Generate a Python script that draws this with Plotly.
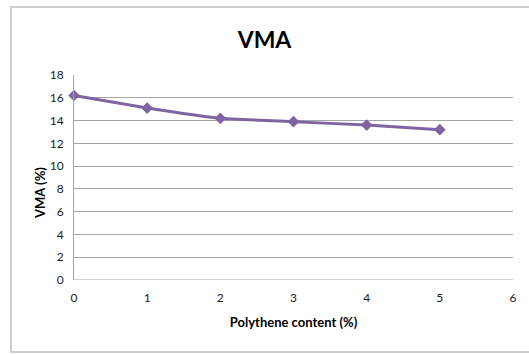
import plotly.graph_objects as go

# Polythene content (%) vs VMA (%)
polythene_content = [0, 1, 2, 3, 4, 5]
vma_values = [16.2, 15.1, 14.2, 13.9, 13.6, 13.2]
x_ticks = [0, 1, 2, 3, 4, 5, 6]
y_ticks = [0, 2, 4, 6, 8, 10, 12, 14, 16, 18]

W, H = 529, 354
L, R, T, B = 74, 16, 75, 74
pw, ph = W - L - R, H - T - B

FONT = "Lato, Open Sans, sans-serif"
PURPLE = "#8064A2"

fig = go.Figure()
fig.add_trace(go.Scatter(
    x=polythene_content, y=vma_values, mode="lines+markers",
    line=dict(color=PURPLE, width=3, shape="spline", smoothing=0.4),
    marker=dict(symbol="diamond", size=9, color=PURPLE),
    showlegend=False, cliponaxis=False,
))

# outer chart frame
fig.add_shape(type="rect", xref="paper", yref="paper",
              x0=(11 - L) / pw, x1=(W + 2 - L) / pw,
              y0=(H - B - 352) / ph, y1=(H - B - 7) / ph,
              line=dict(color="#cfcfcf", width=2), layer="below")

# vertical axis title, sitting slightly below the plot's midline
fig.add_annotation(text="<b>VMA (%)</b>", xref="paper", yref="paper",
                   x=(40 - L) / pw, y=(H - B - 193) / ph,
                   xanchor="center", yanchor="middle", textangle=-90,
                   showarrow=False,
                   font=dict(size=13, family=FONT, color="#000000"))

fig.update_layout(
    width=W, height=H,
    margin=dict(l=L, r=R, t=T, b=B),
    paper_bgcolor="white", plot_bgcolor="white",
    font=dict(family=FONT, color="#1a1a1a", size=12),
    title=dict(text="<b>VMA</b>", x=0.5, xref="container", xanchor="center",
               y=1 - 40 / H, yref="container", yanchor="middle",
               font=dict(size=23, family=FONT, color="#000000")),
    xaxis=dict(range=[0, 6], tickvals=x_ticks, showgrid=False, zeroline=False,
               showline=False, ticks="", ticklabelstandoff=9,
               title=dict(text="<b>Polythene content (%)</b>", standoff=13,
                          font=dict(size=13, family=FONT, color="#000000"))),
    yaxis=dict(range=[0, 18], tickvals=y_ticks, showgrid=True,
               gridcolor="#a6a6a6", gridwidth=1, zeroline=False,
               showline=True, linecolor="#a6a6a6", linewidth=1, ticks="",
               ticklabelstandoff=7),
)
fig.add_hline(y=0, line=dict(color="#a6a6a6", width=1))

fig.write_html("out.html")
